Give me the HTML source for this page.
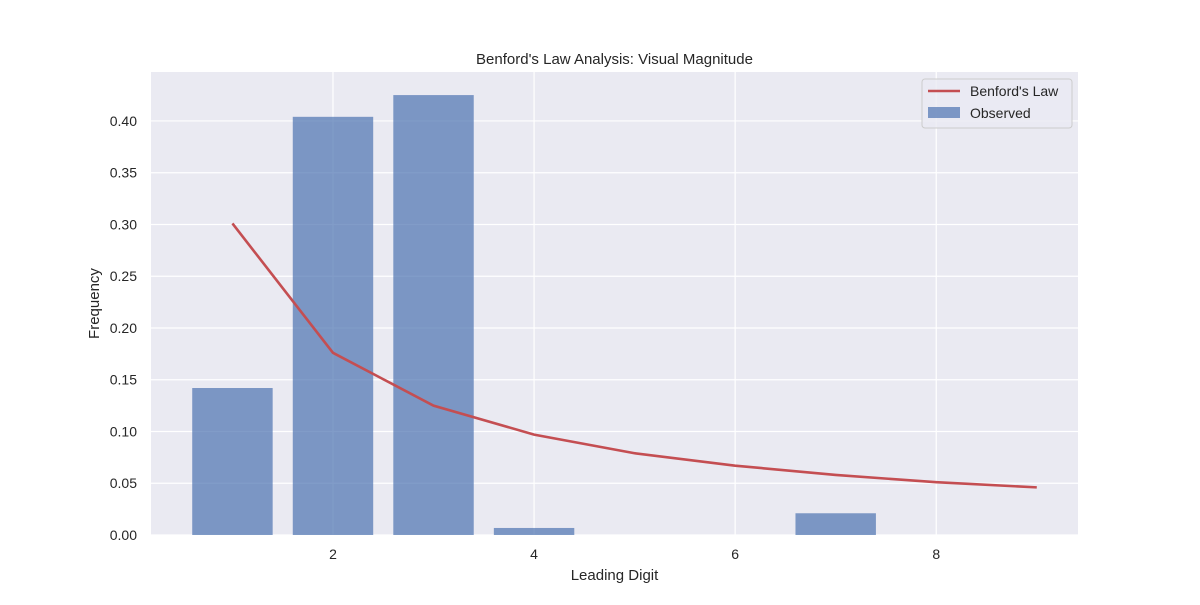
<!DOCTYPE html>
<html><head><meta charset="utf-8"><style>
body{margin:0;background:#fff;font-family:"Liberation Sans","DejaVu Sans",sans-serif;}
svg text{font-family:"Liberation Sans","DejaVu Sans",sans-serif;fill:#262626;}
</style></head><body>
<svg id="chart" width="1200" height="600"></svg>
<script>
const digits=[1,2,3,4,5,6,7,8,9];
const observed=[0.142,0.404,0.425,0.0068,0,0,0.021,0,0];
const benford=[0.301,0.176,0.125,0.097,0.079,0.067,0.058,0.051,0.046];
const yTicks=[0,0.05,0.10,0.15,0.20,0.25,0.30,0.35,0.40];
const xTicks=[2,4,6,8];
const L=151,R=1078,T=72,B=535;
const xmin=0.19,xmax=9.41,ymin=0,ymax=0.4473;
const X=v=>L+(v-xmin)/(xmax-xmin)*(R-L);
const Y=v=>B-(v-ymin)/(ymax-ymin)*(B-T);
const NS='http://www.w3.org/2000/svg',svg=document.getElementById('chart');
function mk(t,a,p){const e=document.createElementNS(NS,t);for(const k in a)e.setAttribute(k,a[k]);(p||svg).appendChild(e);return e;}
let bg=mk('rect',{x:L,y:T,width:R-L,height:B-T,fill:'#eaeaf2'});


yTicks.forEach(v=>{
 let g=mk('line',{x1:L,x2:R,y1:Y(v),y2:Y(v),stroke:'#fff','stroke-width':1.2});
 
 
 let t=mk('text',{x:L-14,y:Y(v)+5,'text-anchor':'end','font-size':14});
 t.textContent=v.toFixed(2);
 
 
});
xTicks.forEach(v=>{
 let g=mk('line',{x1:X(v),x2:X(v),y1:T,y2:B,stroke:'#fff','stroke-width':1.2});
 
 
 let t=mk('text',{x:X(v),y:B+24,'text-anchor':'middle','font-size':14});
 t.textContent=v;
 
 
});
digits.forEach((d,i)=>{
 if(observed[i]<=0)return;
 let b=mk('rect',{x:X(d-0.4),y:Y(observed[i]),width:X(d+0.4)-X(d-0.4),height:Y(0)-Y(observed[i]),fill:'#4c72b0','fill-opacity':0.7});
 
 
});
let pl=mk('polyline',{points:digits.map((d,i)=>X(d)+','+Y(benford[i])).join(' '),fill:'none',stroke:'#c44e52','stroke-width':2.6});


let ti=mk('text',{x:(L+R)/2,y:64,'text-anchor':'middle','font-size':15});
ti.textContent="Benford's Law Analysis: Visual Magnitude";


let xl=mk('text',{x:(L+R)/2,y:580,'text-anchor':'middle','font-size':15});
xl.textContent='Leading Digit';


let yl=mk('text',{x:99,y:(T+B)/2,'text-anchor':'middle','font-size':15,transform:'rotate(-90 99 '+(T+B)/2+')'});
yl.textContent='Frequency';


let lg=mk('g',{});


mk('rect',{x:922,y:79,width:150,height:49,rx:3,fill:'#eaeaf2','fill-opacity':0.8,stroke:'#ccc'},lg);
let e1=mk('line',{x1:928,x2:960,y1:91,y2:91,stroke:'#c44e52','stroke-width':2.6},lg);


let t1=mk('text',{x:970,y:96,'font-size':14},lg);t1.textContent="Benford's Law";


let e2=mk('rect',{x:928,y:107,width:32,height:11,fill:'#4c72b0','fill-opacity':0.7},lg);


let t2=mk('text',{x:970,y:118,'font-size':14},lg);t2.textContent='Observed';


</script>
</body></html>
